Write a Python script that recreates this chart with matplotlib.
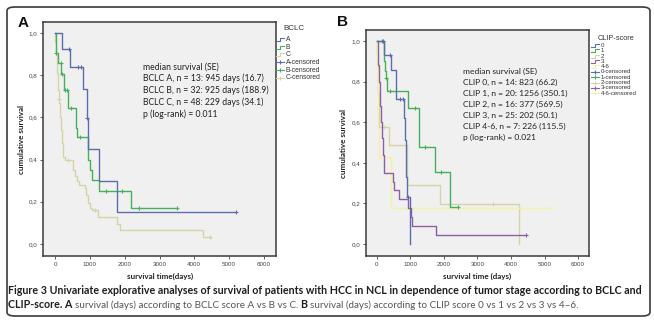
import matplotlib
matplotlib.use("Agg")
import matplotlib.pyplot as plt
from matplotlib.lines import Line2D
from matplotlib.patches import FancyBboxPatch
import numpy as np

W, H = 654, 322

# ---- Panel A: BCLC stage (Kaplan-Meier step curves read as levels)
bclc_groups = ["A", "B", "C"]
bclc_a_t = [0, 210, 430, 815, 919, 945, 1263, 1771]
bclc_a_s = [1.0, 0.923, 0.839, 0.734, 0.597, 0.448, 0.30, 0.15]
bclc_a_cens = [403, 670, 740, 928, 5196]

bclc_b_t = [0, 20, 100, 185, 250, 380, 590, 610, 640, 938, 960, 1000, 1050, 1263, 2173]
bclc_b_s = [1.0, 0.906, 0.86, 0.806, 0.73, 0.643, 0.60, 0.551, 0.508, 0.445, 0.40, 0.35, 0.303, 0.253, 0.169]
bclc_b_cens = [29, 163, 210, 287, 335, 450, 718, 1464, 1914, 2412, 3493]

bclc_c_t = [0, 6, 14, 21, 29, 37, 44, 52, 60, 68, 75, 83, 91, 99, 108, 116, 128, 137, 146, 155,
            164, 173, 182, 191, 200, 209, 218, 229, 240, 290, 520, 560, 620, 700, 861, 900, 960,
            1005, 1060, 1243, 1771, 1866, 4240]
bclc_c_s = [1.0, 0.979, 0.958, 0.937, 0.917, 0.896, 0.875, 0.854, 0.833, 0.812, 0.792, 0.771, 0.75,
            0.729, 0.708, 0.688, 0.666, 0.645, 0.624, 0.603, 0.582, 0.561, 0.540, 0.519, 0.498, 0.477,
            0.456, 0.435, 0.414, 0.398, 0.35, 0.32, 0.30, 0.28, 0.264, 0.232, 0.193, 0.169, 0.161,
            0.129, 0.097, 0.066, 0.032]
bclc_c_cens = [116, 383, 1148, 4450]

bclc_text = ["median survival (SE)",
             "BCLC A, n = 13: 945 days (16.7)",
             "BCLC B, n = 32: 925 days (188.9)",
             "BCLC C, n = 48: 229 days (34.1)",
             "p (log-rank) = 0.011"]

# ---- Panel B: CLIP score
clip_groups = ["0", "1", "2", "3", "4-6"]
clip0_t = [0, 218, 427, 560, 575, 815, 830, 862, 880, 895, 985]
clip0_s = [1.0, 0.929, 0.857, 0.786, 0.714, 0.62, 0.512, 0.43, 0.33, 0.233, 0.0]
clip0_cens = [190, 397, 697, 767, 935]

clip1_t = [0, 200, 220, 240, 255, 299, 925, 1245, 1740, 2180]
clip1_s = [1.0, 0.95, 0.90, 0.85, 0.82, 0.755, 0.672, 0.48, 0.356, 0.18]
clip1_cens = [150, 269, 397, 1125, 1443, 1910, 2409]

clip2_t = [0, 10, 20, 30, 40, 50, 60, 350, 885, 905, 1881, 4248]
clip2_s = [1.0, 0.94, 0.875, 0.81, 0.75, 0.69, 0.578, 0.488, 0.39, 0.29, 0.195, 0.0]
clip2_cens = [200, 3472]

clip3_t = [0, 20, 35, 45, 55, 65, 75, 88, 100, 112, 125, 140, 155, 170, 185, 200, 219,
           487, 500, 657, 935, 1005, 1055, 1761]
clip3_s = [1.0, 0.96, 0.92, 0.88, 0.84, 0.80, 0.76, 0.72, 0.68, 0.64, 0.60, 0.56, 0.52, 0.48,
           0.44, 0.40, 0.348, 0.307, 0.266, 0.22, 0.176, 0.134, 0.089, 0.044]
clip3_cens = [4448]

clip46_t = [0, 15, 30, 45, 60, 418]
clip46_s = [1.0, 0.857, 0.714, 0.571, 0.43, 0.176]
clip46_cens = [5194]

clip_text = ["median survival (SE)",
             "CLIP 0, n = 14: 823 (66.2)",
             "CLIP 1, n = 20: 1256 (350.1)",
             "CLIP 2, n = 16: 377 (569.5)",
             "CLIP 3, n = 25: 202 (50.1)",
             "CLIP 4-6, n = 7: 226 (115.5)",
             "p (log-rank) = 0.021"]

x_ticks = [0, 1000, 2000, 3000, 4000, 5000, 6000]
y_ticks = [0.0, 0.2, 0.4, 0.6, 0.8, 1.0]

c_blue = "#5c6cae"
c_green = "#46b05a"
c_tan = "#d6d3a8"
c_purple = "#8e5fa2"
c_yellow = "#f2f2a6"

SANS = "Liberation Sans"
CAL = "Lato"


def fx(x):
    return x / W


def fy(y):
    return 1 - y / H


fig = plt.figure(figsize=(W / 100, H / 100), dpi=100)
fig.patch.set_facecolor("white")

# outer rounded frame
fig.add_artist(FancyBboxPatch((fx(7), fy(316)), fx(643), 309 / H,
                              boxstyle="round,pad=0,rounding_size=0.012",
                              transform=fig.transFigure, fill=False,
                              ec="#3a3a3a", lw=1.2))


def km_axes(box, xlim, ylim):
    l, t, r, b = box
    ax = fig.add_axes([fx(l), fy(b), (r - l) / W, (b - t) / H])
    ax.set_facecolor("#f0f0f0")
    ax.set_xlim(*xlim)
    ax.set_ylim(*ylim)
    ax.set_xticks(x_ticks)
    ax.set_yticks(y_ticks)
    ax.set_yticklabels([f"{v:.1f}".replace(".", ",") for v in y_ticks])
    ax.tick_params(length=2.5, width=0.6, color="#444", labelsize=4.5,
                   labelcolor="#444", pad=1.5)
    for lab in ax.get_xticklabels() + ax.get_yticklabels():
        lab.set_family(SANS)
    for sp in ax.spines.values():
        sp.set_color("#3a3a3a")
        sp.set_linewidth(1.1)
    return ax


def km_curve(ax, t, s, cens, color):
    end = max(t[-1], max(cens) if cens else 0)
    tt = list(t) + [end]
    ss = list(s) + [s[-1]]
    ax.step(tt, ss, where="post", color=color, lw=1.0)
    idx = np.searchsorted(t, cens, side="right") - 1
    ax.plot(cens, np.array(s)[idx], ls="none", marker="+", ms=3.5, mew=0.8, color=color)


def legend_block(x0, y0, dy, title, names, colors, tsize, esize):
    fig.text(fx(x0 + 3), fy(y0), title, fontsize=tsize, family=SANS, color="#333",
             va="center", ha="left")
    rows = [(n, c, False) for n, c in zip(names, colors)] + \
           [(n + "-censored", c, True) for n, c in zip(names, colors)]
    for i, (name, col, cen) in enumerate(rows):
        y = y0 + dy * (i + 1.4)
        if cen:
            fig.add_artist(Line2D([fx(x0 - 4), fx(x0 + 4)], [fy(y), fy(y)], color=col, lw=0.8))
            fig.add_artist(Line2D([fx(x0)], [fy(y)], color=col, marker="+", ms=3.5, mew=0.8))
        else:
            xs = [fx(x0 - 4), fx(x0), fx(x0), fx(x0 + 4)]
            ys = [fy(y + 1.5), fy(y + 1.5), fy(y - 1.5), fy(y - 1.5)]
            fig.add_artist(Line2D(xs, ys, color=col, lw=0.8))
        fig.text(fx(x0 + 5.5), fy(y), name, fontsize=esize, family=SANS, color="#333",
                 va="center", ha="left")


# ---- Panel A
axA = km_axes((43, 22, 276, 256), (-344.5, 6344.5), (-0.057, 1.052))
km_curve(axA, bclc_c_t, bclc_c_s, bclc_c_cens, c_tan)
km_curve(axA, bclc_b_t, bclc_b_s, bclc_b_cens, c_green)
km_curve(axA, bclc_a_t, bclc_a_s, bclc_a_cens, c_blue)
for i, line in enumerate(bclc_text):
    fig.text(fx(143), fy(67 + 11.7 * i), line, fontsize=6.2, family=CAL, color="#222",
             va="center", ha="left")
fig.text(fx(22), fy(139), "cumulative survival", rotation=90, fontsize=5.8,
         fontweight="bold", family=CAL, color="#222", ha="center", va="center")
fig.text(fx(160), fy(276), "survival time(days)", fontsize=5.8, fontweight="bold",
         family=CAL, color="#222", ha="center", va="center")
fig.text(fx(23), fy(23), "A", fontsize=11, fontweight="bold", family=SANS,
         color="#111", ha="center", va="center")
legend_block(280, 29, 7.6, "BCLC", bclc_groups, [c_blue, c_green, c_tan], 5.8, 4.9)

# ---- Panel B
axB = km_axes((366, 30, 589, 256), (-328, 6328), (-0.059, 1.054))
km_curve(axB, clip2_t, clip2_s, clip2_cens, c_tan)
km_curve(axB, clip46_t, clip46_s, clip46_cens, c_yellow)
km_curve(axB, clip3_t, clip3_s, clip3_cens, c_purple)
km_curve(axB, clip1_t, clip1_s, clip1_cens, c_green)
km_curve(axB, clip0_t, clip0_s, clip0_cens, c_blue)
for i, line in enumerate(clip_text):
    fig.text(fx(463), fy(71 + 11 * i), line, fontsize=6.1, family=CAL, color="#222",
             va="center", ha="left")
fig.text(fx(343), fy(143), "cumulative survival", rotation=90, fontsize=5.8,
         fontweight="bold", family=CAL, color="#222", ha="center", va="center")
fig.text(fx(477), fy(276), "survival time (days)", fontsize=5.8, fontweight="bold",
         family=CAL, color="#222", ha="center", va="center")
fig.text(fx(342), fy(22), "B", fontsize=11, fontweight="bold", family=SANS,
         color="#111", ha="center", va="center")
legend_block(595, 38, 5.3, "CLIP-score", clip_groups,
             [c_blue, c_green, c_tan, c_purple, c_yellow], 5.3, 4.4)

# ---- caption, pieces chained left to right
renderer = fig.canvas.get_renderer()


def chain(x, y, pieces, size):
    for txt, bold in pieces:
        t = fig.text(fx(x), fy(y), txt, fontsize=size if bold else size * 0.93, family=CAL,
                     fontweight="bold" if bold else "normal",
                     color="#1e1e1e" if bold else "#555555", ha="left", va="center")
        x += t.get_window_extent(renderer).width


cap1 = [("Figure 3 Univariate explorative analyses of survival of patients with HCC in NCL "
         "in dependence of tumor stage according to BCLC and", True)]
cap2 = [("CLIP-score. A ", True),
        ("survival (days) according to BCLC score A vs B vs C. ", False),
        ("B ", True),
        ("survival (days) according to CLIP score 0 vs 1 vs 2 vs 3 vs 4\u20136.", False)]

# size the caption so the first line spans the frame
probe = fig.text(0, 0, cap1[0][0], fontsize=10, family=CAL, fontweight="bold")
cap_size = 10 * 634 / probe.get_window_extent(renderer).width
probe.remove()
chain(8, 291, cap1, cap_size)
chain(8, 305, cap2, cap_size)

fig.savefig("out.png", dpi=100)
